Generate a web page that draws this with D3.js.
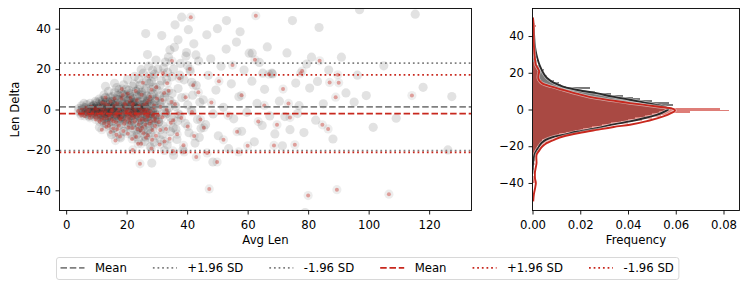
<!DOCTYPE html>
<html>
<head>
<meta charset="utf-8">
<script src="https://cdn.jsdelivr.net/npm/d3@7"></script>
<style>
  body { margin: 0; background: #fff; }
  svg { display: block; font-family: "DejaVu Sans", sans-serif; }
</style>
</head>
<body>
<svg id="chart" width="748" height="288"></svg>
<script>
// ---- data ----
// scatter: [avg len, len delta]
const grayPts = [
  [4.2,0.5],[4.8,-1.2],[5.1,1.8],[5.5,-0.3],[6.0,0.9],[6.3,-2.1],[6.8,2.4],[7.1,0.2],[7.4,-1.5],[7.9,3.1],
  [8.2,-0.8],[8.6,1.4],[9.0,-2.6],[9.3,0.6],[9.7,4.0],[9.9,-1.0],[5.9,3.0],[7.6,-3.4],[8.9,2.2],[6.6,-0.6],
  [10.2,1.5],[10.5,-3.2],[10.9,5.1],[11.3,-0.4],[11.6,2.8],[11.9,-5.5],[12.2,0.9],[12.5,7.2],[12.8,-2.0],[13.1,3.6],
  [13.4,-7.1],[13.7,1.2],[14.0,9.0],[14.3,-1.6],[14.6,4.3],[14.9,-4.0],[15.2,0.3],[15.5,6.5],[15.8,-9.2],[16.1,2.0],
  [16.4,-2.8],[16.7,10.8],[17.0,-0.9],[17.3,4.9],[17.6,-5.7],[17.9,1.7],[18.2,8.1],[18.5,-3.5],[18.8,3.0],[19.1,-11.0],
  [19.4,0.5],[19.7,6.2],[11.0,-8.8],[13.0,11.5],[15.0,-12.5],[16.0,13.0],[18.0,-14.0],[19.0,12.2],[12.0,4.5],[14.5,-0.2],
  [16.8,0.8],[18.6,-1.2],[17.2,7.0],[15.3,2.5],[13.6,-3.9],
  [20.1,2.1],[20.4,-4.4],[20.7,9.5],[21.0,0.0],[21.3,5.6],[21.6,-7.8],[21.9,3.3],[22.2,-1.7],[22.5,12.6],[22.8,1.0],
  [23.1,-10.5],[23.4,6.8],[23.7,-2.9],[24.0,15.2],[24.3,3.9],[24.6,-5.1],[24.9,8.6],[25.2,-0.6],[25.5,18.0],[25.8,2.7],
  [26.1,-13.4],[26.4,10.3],[26.7,-3.8],[27.0,5.0],[27.3,21.5],[27.6,-8.5],[27.9,1.6],[28.2,13.8],[28.5,-1.0],[28.8,7.7],
  [29.1,-16.2],[29.4,4.1],[29.7,24.5],[20.3,14.8],[21.8,-12.9],[22.7,16.4],[23.9,-15.0],[24.8,19.7],[25.6,-9.9],[26.9,27.2],
  [27.8,-18.5],[28.9,11.2],[20.9,6.9],[22.1,-4.8],[23.3,0.4],[24.5,-0.3],[25.9,4.6],[26.3,0.7],[27.4,-5.6],[28.4,2.9],
  [29.5,-2.3],[21.5,1.9],[23.8,9.8],[25.1,-7.0],[26.6,14.1],[28.0,-11.7],[29.2,17.5],[22.4,3.5],[24.2,7.4],[26.0,1.3],
  [26.3,37.6],[28.3,-26.5],
  [8.5,0.3],[9.1,1.9],[9.5,-0.5],[10.0,3.3],[10.4,-1.9],[10.8,0.6],[11.2,4.1],[11.5,-2.7],[11.8,1.0],[12.1,-0.8],
  [12.4,2.5],[12.7,-4.6],[13.0,5.8],[13.3,0.1],[13.6,-1.4],[13.9,3.7],[14.2,-3.3],[14.5,6.1],[14.8,1.5],[15.1,-5.9],
  [15.4,4.0],[15.7,-0.7],[16.0,8.4],[16.3,2.9],[16.6,-4.1],[16.9,5.3],[17.2,-1.8],[17.5,9.9],[17.8,0.9],[18.1,-7.3],
  [18.4,4.6],[18.7,-2.4],[19.0,7.4],[19.3,1.2],[19.6,-5.0],[19.9,10.1],[20.2,-0.9],[20.5,4.4],[20.8,-8.0],[21.1,7.8],
  [21.4,2.0],[21.7,-3.1],[22.0,11.4],[22.3,5.2],[22.6,-6.4],[22.9,0.7],[23.2,8.9],[23.5,-1.2],[23.8,3.0],[24.1,-9.0],
  [24.4,12.0],[24.7,2.2],[25.0,-3.5],[25.3,6.0],[25.6,0.2],[25.9,-6.0],[26.2,9.1],[26.5,-1.6],[26.8,4.0],[27.1,-10.2],
  [27.4,12.9],[27.7,2.6],[28.0,-4.4],[28.3,7.1],[28.6,-0.4],[28.9,16.0],[29.2,-7.5],[29.5,5.3],[29.8,-2.8],[30.1,9.7],
  [30.5,-4.8],[31.0,2.5],[31.5,14.2],[32.0,-8.1],[32.5,6.2],[33.0,-2.2],[33.5,18.4],[34.0,0.9],[34.5,-11.0],[35.0,7.9],
  [21.2,-1.0],[23.0,3.9],[24.9,1.0],[26.7,6.7],[19.5,2.8],[17.9,-2.7],[15.9,1.1],[14.1,-0.4],[22.5,-0.5],[27.9,-1.9],
  [30.3,20.0],[32.8,23.5],[35.5,20.0],[37.6,17.0],[40.1,21.7],[28.6,19.5],[31.2,-15.0],[36.3,-9.8],[26.0,-15.8],[23.5,-12.4],
  [30.2,0.8],[30.6,-6.2],[31.0,12.0],[31.4,3.2],[31.8,-12.3],[32.2,20.6],[32.6,-1.5],[33.0,8.3],[33.4,-17.5],[33.8,26.0],
  [34.2,4.4],[34.6,-4.0],[35.0,16.2],[35.4,-9.0],[35.8,30.8],[36.2,1.5],[36.6,-14.8],[37.0,10.4],[37.4,-2.6],[37.8,22.8],
  [38.2,5.9],[38.6,-20.0],[39.0,14.7],[39.4,-6.9],[39.8,28.2],[40.2,2.2],[40.6,-11.5],[41.0,18.9],[41.4,-0.4],[41.8,7.1],
  [42.2,32.5],[42.6,-16.6],[43.0,11.9],[43.4,-4.9],[43.8,24.0],[44.2,3.6],[44.6,-9.3],[31.6,36.6],[34.3,29.5],[36.0,41.9],
  [38.2,45.7],[40.4,39.5],[37.0,34.5],[39.6,26.4],[32.5,-20.3],[35.5,-22.6],[30.9,6.8],[33.2,15.1],[36.8,-5.7],[41.5,13.5],
  [44.0,-13.8],[42.9,27.0],
  [45.3,4.8],[46.1,-7.5],[47.0,16.9],[47.8,25.1],[48.6,-2.2],[49.5,9.6],[50.3,-13.0],[51.2,21.4],[52.0,1.1],[52.9,29.9],
  [53.7,-19.4],[54.6,12.7],[55.4,-4.6],[56.3,33.4],[57.1,6.3],[58.0,-10.8],[58.8,19.5],[59.7,-1.4],[60.5,27.9],[61.4,14.0],
  [62.2,-16.0],[63.1,3.0],[63.9,23.3],[64.8,-7.9],[65.6,10.0],[66.5,31.0],[67.3,-3.2],[68.2,17.6],[69.0,-12.1],[46.5,37.0],
  [50.0,40.0],[53.0,44.0],[57.5,38.5],[61.5,27.9],[68.0,18.0],[65.0,18.0],[48.5,-26.0],
  [70.5,4.1],[72.3,-3.5],[74.8,44.0],[74.0,-10.0],[75.9,13.1],[77.0,1.9],[78.6,-11.4],[79.5,22.5],[80.5,10.6],[81.1,25.9],
  [82.5,-5.3],[83.1,13.9],[83.6,40.6],[85.0,2.8],[86.8,19.5],[88.2,-14.6],[91.0,25.9],[92.5,8.2],[95.2,3.7],[96.3,17.0],
  [97.0,49.4],[99.2,6.9],[101.5,-8.8],[105.0,21.6],[109.1,-4.3],[115.4,47.2],[118.0,11.0],[127.5,6.4],[126.2,-20.0],[71.5,-18.0],
  [76.5,-2.0],[73.0,28.0],[79.0,-51.0]
];
const redPts = [
  [4.0,-0.8],[4.6,-2.0],[5.2,0.4],[5.7,-1.5],[6.1,-3.2],[6.5,0.9],[7.0,-2.4],[7.5,-0.2],[7.8,-4.1],[8.3,1.3],
  [8.7,-1.8],[9.2,-3.6],[9.6,0.7],[5.0,-3.0],[6.9,-1.0],[8.0,-2.9],[9.8,-5.0],
  [10.1,-2.6],[10.6,0.8],[11.0,-6.0],[11.5,-1.3],[11.9,3.4],[12.4,-4.5],[12.9,-0.5],[13.3,-8.6],[13.8,2.1],[14.2,-3.0],
  [14.7,-11.2],[15.1,0.2],[15.6,-5.8],[16.0,5.5],[16.5,-1.9],[16.9,-9.8],[17.4,1.0],[17.8,-13.4],[18.3,-3.9],[18.7,7.2],
  [19.2,-7.1],[19.6,-0.8],[12.2,-1.5],[14.0,-6.5],[15.9,-2.3],[17.7,-4.4],[19.3,3.0],[13.0,6.0],[11.8,-10.0],[16.3,-15.4],
  [18.4,10.2],[14.9,-0.9],
  [8.8,-1.2],[9.4,0.2],[9.9,-2.2],[10.3,-0.6],[10.7,-3.9],[11.1,1.4],[11.4,-2.1],[11.7,-5.1],[12.0,0.4],[12.3,-3.0],
  [12.6,-6.8],[12.9,2.8],[13.2,-1.9],[13.5,-4.2],[13.8,0.9],[14.1,-8.0],[14.4,-2.6],[14.7,3.9],[15.0,-4.9],[15.3,-0.4],
  [15.6,-9.4],[15.9,1.7],[16.2,-3.4],[16.5,-6.3],[16.8,3.0],[17.1,-1.1],[17.4,-7.9],[17.7,0.3],[18.0,-4.8],[18.3,5.4],
  [18.6,-2.0],[18.9,-10.7],[19.2,0.9],[19.5,-5.4],[19.8,2.3],[20.1,-3.7],[20.4,-12.0],[20.7,0.0],[21.0,-6.6],[21.3,5.9],
  [21.6,-1.4],[21.9,-9.2],[22.2,2.9],[22.5,-4.2],[22.8,-0.8],[23.1,-13.5],[23.4,4.7],[23.7,-3.2],[24.0,-7.4],[24.3,0.5],
  [24.6,-2.1],[24.9,7.3],[25.2,-9.0],[25.5,-1.9],[25.8,2.4],[26.1,-5.2],[26.4,-14.0],[26.7,0.1],[27.0,-3.3],[27.3,4.6],
  [27.6,-7.0],[27.9,-0.9],[28.2,9.8],[28.5,-10.1],[28.8,-2.6],[29.1,2.0],[29.4,-4.5],[29.7,-13.0],[30.0,5.4],[30.6,-6.2],
  [31.2,1.3],[31.8,-3.8],[32.4,8.2],[33.0,-9.7],[33.6,-1.9],[34.2,-14.5],[34.8,3.7],[35.4,-5.3],[22.0,-2.8],[19.9,-1.5],
  [17.0,-3.0],[25.0,-0.5],[26.2,-2.5],[23.8,1.2],[21.1,-2.2],[28.0,-5.8],[16.6,-12.5],[30.9,-17.3],[33.4,13.0],[24.8,-17.0],
  [20.2,-1.1],[20.6,-8.9],[21.0,4.0],[21.4,-3.4],[21.8,-14.6],[22.2,0.6],[22.6,-6.1],[23.0,9.1],[23.4,-2.4],[23.8,-17.0],
  [24.2,1.8],[24.6,-10.4],[25.0,-4.7],[25.4,13.2],[25.8,-0.3],[26.2,-7.6],[26.6,3.2],[27.0,-12.8],[27.4,-1.7],[27.8,6.3],
  [28.2,-19.3],[28.6,-3.1],[29.0,0.9],[29.4,-8.2],[29.8,11.0],[20.8,-5.0],[22.9,-2.0],[24.4,-5.5],[25.6,-11.8],[26.9,-3.6],
  [28.4,-15.0],[21.9,2.4],[23.6,-9.7],[27.2,16.5],[24.4,-26.9],[29.3,-5.6],[20.4,7.8],[26.4,-1.0],[22.0,-20.0],
  [30.4,-2.8],[31.1,-10.1],[31.8,4.7],[32.5,-15.9],[33.2,-0.1],[33.9,9.3],[34.6,-6.6],[35.3,-20.5],[36.0,2.6],[36.7,-12.2],
  [37.4,15.4],[38.1,-4.2],[38.8,-17.7],[39.5,6.1],[40.2,-8.4],[40.9,20.0],[41.6,-1.2],[42.3,-13.1],[43.0,-23.5],[43.7,8.5],
  [44.4,-5.0],[41.2,45.7],[32.0,18.0],[35.0,24.0],[39.0,-21.0],[37.0,-2.0],[42.0,12.0],
  [45.5,-9.0],[46.6,-21.5],[47.3,-39.3],[48.0,3.5],[49.9,-26.0],[50.5,14.0],[52.0,-15.0],[53.5,-3.0],[55.0,22.0],[56.5,-11.0],
  [58.0,7.0],[60.0,-18.0],[62.4,24.6],[62.7,46.4],[63.5,-6.0],[65.5,2.0],[67.0,17.5],[68.7,-17.8],[69.7,-7.6],[57.0,-21.0],
  [71.7,10.1],[73.5,3.0],[75.6,-17.5],[77.5,18.0],[80.0,-42.6],[83.8,24.1],[84.7,-7.6],[86.6,-9.6],[87.1,13.4],[89.1,6.1],
  [89.5,-39.7],[89.8,17.2],[90.1,13.2],[78.0,19.0],[106.7,-41.9],[114.3,6.9],[74.0,-4.0]
];

// reference lines: [gray, red]
const meanLines  = [1.3, -2.0];
const upperLines = [23.0, 17.2];
const lowerLines = [-20.4, -21.2];

// histogram (density), bins of width 1 starting at -50
const binStart = -50;
const grayHist = [
  0,0,0,0,0,0,0,0,0,0, 0,0,0,0,0,0,0,0.0005,0,0,
  0,0,0.001,0,0.001,0.001,0.002,0.001,0.003,0.002,
  0.003,0.004,0.005,0.004,0.007,0.009,0.011,0.014,0.018,0.021,
  0.025,0.029,0.033,0.037,0.040,0.043,0.047,0.050,0.053,0.055,
  0.058,0.056,0.059,0.057,0.050,0.045,0.042,0.038,0.033,0.026,
  0.019,0.024,0.014,0.012,0.011,0.009,0.007,0.006,0.006,0.005,
  0.004,0.005,0.003,0.003,0.002,0.002,0.002,0.001,0.002,0.001,
  0.001,0.001,0.001,0.0005,0.001,0.0005,0,0.0005,0.0005,0,
  0.0005,0,0.0005,0,0.0005,0.0005,0,0.0005,0,0
];
const redHist = [
  0,0.0005,0,0,0,0,0,0,0,0,
  0.0015,0.001,0.0015,0.0005,0,0,0,0.0005,0,0,
  0.001,0,0.001,0.001,0.002,0.002,0.002,0.003,0.003,0.004,
  0.005,0.005,0.007,0.008,0.011,0.012,0.015,0.018,0.022,0.025,
  0.029,0.034,0.040,0.042,0.046,0.050,0.054,0.057,0.066,0.0825,
  0.0785,0.055,0.046,0.041,0.035,0.030,0.027,0.022,0.019,0.016,
  0.013,0.010,0.008,0.006,0.005,0.004,0.003,0.002,0.002,0.003,
  0.003,0.002,0.002,0.001,0.001,0.001,0,0.001,0,0,
  0.001,0,0,0,0,0,0,0,0,0,
  0,0,0,0,0,0.0015,0.001,0.0005,0,0
];

// density curves: [len delta, density]
const grayKde = [
  [-35,0.0000],[-30,0.0002],[-26,0.0006],[-24,0.0010],[-22,0.0018],[-20,0.0028],[-18,0.0040],[-16.5,0.0055],
  [-15,0.0085],[-13.8,0.0128],[-12,0.0190],[-10.2,0.0268],[-8,0.0345],[-6.5,0.0408],[-4.5,0.0475],[-2.9,0.0520],
  [-1,0.0555],[0.2,0.0569],[1.2,0.0560],[2.5,0.0520],[4,0.0460],[5.3,0.0408],[7,0.0335],[8.9,0.0268],
  [10.5,0.0195],[12.5,0.0128],[14.5,0.0090],[17,0.0062],[20,0.0045],[24,0.0030],[28,0.0020],[32,0.0013],
  [36,0.0009],[40,0.0007],[45,0.0004],[50,0.0002]
];
const redKde = [
  [-50,0.0003],[-46,0.0006],[-42,0.0012],[-40,0.0014],[-37,0.0010],[-34.7,0.0010],[-32,0.0013],[-29,0.0017],
  [-26,0.0016],[-24.7,0.0017],[-22,0.0030],[-20,0.0042],[-18.3,0.0059],[-16.5,0.0090],[-14.7,0.0128],[-12.8,0.0195],
  [-11.1,0.0268],[-9.5,0.0340],[-8.3,0.0408],[-6,0.0490],[-3.8,0.0548],[-2,0.0580],[-0.5,0.0597],[0.5,0.0585],
  [1.5,0.0530],[2.5,0.0470],[3.5,0.0408],[5,0.0330],[6.2,0.0268],[8.5,0.0190],[10.7,0.0128],[12.5,0.0080],
  [14,0.0044],[15.5,0.0030],[17.1,0.0024],[19,0.0025],[20.7,0.0028],[22.5,0.0022],[24.4,0.0014],[28,0.0010],
  [32.5,0.0007],[38,0.0005],[44,0.0005],[47,0.0004],[50,0.0002]
];

const xTicks = [0, 20, 40, 60, 80, 100, 120];
const yTicks = [-40, -20, 0, 20, 40];
const freqTicks = [0, 0.02, 0.04, 0.06, 0.08];
const legendLabels = ["Mean", "+1.96 SD", "-1.96 SD", "Mean", "+1.96 SD", "-1.96 SD"];

// ---- drawing ----
const GRAY = "#808080", RED = "#c8281e", FS = 11.7;
const svg = d3.select("#chart");

const L = { x0: 59.5, x1: 471.5, y0: 8.5, y1: 210.5 };
const R = { x0: 532.5, x1: 739.5, y0: 8.5, y1: 210.5 };

const x = d3.scaleLinear().domain([-2.2, 134]).range([L.x0, L.x1]);
const y = d3.scaleLinear().domain([-50, 50]).range([L.y1, L.y0]);
const hx = d3.scaleLinear().domain([0, 0.0867]).range([R.x0, R.x1]);
const hy = d3.scaleLinear().domain([-55, 55]).range([R.y1, R.y0]);

const defs = svg.append("defs");
defs.append("clipPath").attr("id", "clipL").append("rect")
  .attr("x", L.x0).attr("y", L.y0).attr("width", L.x1 - L.x0).attr("height", L.y1 - L.y0);
defs.append("clipPath").attr("id", "clipR").append("rect")
  .attr("x", R.x0).attr("y", R.y0).attr("width", R.x1 - R.x0).attr("height", R.y1 - R.y0);

// scatter
const sc = svg.append("g").attr("clip-path", "url(#clipL)");
sc.append("g").selectAll("circle").data(grayPts).join("circle")
  .attr("cx", d => x(d[0])).attr("cy", d => y(d[1])).attr("r", 4.6)
  .attr("fill", "#000").attr("fill-opacity", 0.115);
const rg = sc.append("g");
rg.selectAll("circle.ring").data(redPts).join("circle").attr("class", "ring")
  .attr("cx", d => x(d[0])).attr("cy", d => y(d[1])).attr("r", 4.6)
  .attr("fill", "#000").attr("fill-opacity", 0.07);
rg.selectAll("circle.dot").data(redPts).join("circle").attr("class", "dot")
  .attr("cx", d => x(d[0])).attr("cy", d => y(d[1])).attr("r", 2.0)
  .attr("fill", RED).attr("fill-opacity", 0.4);

// reference lines
const lineStyles = [
  { vals: meanLines, dash: "6.5,2.8" },
  { vals: upperLines, dash: "1.75,2.9" },
  { vals: lowerLines, dash: "1.75,2.9" }
];
[GRAY, RED].forEach((col, i) => {
  lineStyles.forEach(s => {
    sc.append("line")
      .attr("x1", L.x0).attr("x2", L.x1)
      .attr("y1", y(s.vals[i])).attr("y2", y(s.vals[i]))
      .attr("stroke", col).attr("stroke-width", 1.75)
      .attr("stroke-dasharray", s.dash);
  });
});

// histogram
const hg = svg.append("g").attr("clip-path", "url(#clipR)");
function drawHist(vals, fill, op) {
  hg.append("g").attr("shape-rendering", "crispEdges")
    .selectAll("rect").data(vals).join("rect")
    .attr("x", hx(0))
    .attr("y", (d, i) => hy(binStart + i + 1))
    .attr("height", (d, i) => hy(binStart + i) - hy(binStart + i + 1))
    .attr("width", d => hx(d) - hx(0))
    .attr("fill", fill).attr("fill-opacity", op);
}
drawHist(grayHist, "#7a7a7a", 1);
drawHist(redHist, RED, 0.6);

const kdeLine = d3.line().x(d => hx(d[1])).y(d => hy(d[0])).curve(d3.curveMonotoneY);
[[grayKde, "#2a2a2a"], [redKde, RED]].forEach(([pts, col]) => {
  hg.append("path").attr("d", kdeLine(pts)).attr("fill", "none")
    .attr("stroke", "#fff").attr("stroke-opacity", 0.5).attr("stroke-width", 3.3);
  hg.append("path").attr("d", kdeLine(pts)).attr("fill", "none")
    .attr("stroke", col).attr("stroke-width", 1.9);
});

// axes
function styleAxis(g) {
  g.select(".domain").remove();
  g.selectAll("line").attr("stroke", "#000").attr("stroke-width", 0.9);
  g.selectAll("text").attr("font-size", FS).attr("font-family", "DejaVu Sans").attr("fill", "#000");
}
svg.append("g").attr("transform", `translate(0,${L.y1})`)
  .call(d3.axisBottom(x).tickValues(xTicks).tickSize(4).tickPadding(6.2)).call(styleAxis);
svg.append("g").attr("transform", `translate(${L.x0},0)`)
  .call(d3.axisLeft(y).tickValues(yTicks).tickSize(4).tickPadding(4.5)).call(styleAxis);
svg.append("g").attr("transform", `translate(0,${R.y1})`)
  .call(d3.axisBottom(hx).tickValues(freqTicks).tickFormat(d3.format(".2f")).tickSize(4).tickPadding(6.2)).call(styleAxis);
svg.append("g").attr("transform", `translate(${R.x0},0)`)
  .call(d3.axisLeft(hy).tickValues(yTicks).tickSize(4).tickPadding(4.5)).call(styleAxis);

[L, R].forEach(a => {
  svg.append("rect").attr("x", a.x0).attr("y", a.y0)
    .attr("width", a.x1 - a.x0).attr("height", a.y1 - a.y0)
    .attr("fill", "none").attr("stroke", "#000").attr("stroke-width", 0.9);
});

// axis titles
svg.append("text").attr("x", (L.x0 + L.x1) / 2).attr("y", 244)
  .attr("text-anchor", "middle").attr("font-size", FS).text("Avg Len");
svg.append("text").attr("x", (R.x0 + R.x1) / 2).attr("y", 244)
  .attr("text-anchor", "middle").attr("font-size", FS).text("Frequency");
svg.append("text").attr("transform", `translate(19,${(L.y0 + L.y1) / 2}) rotate(-90)`)
  .attr("text-anchor", "middle").attr("font-size", FS).text("Len Delta");

// legend
const leg = svg.append("g");
const box = leg.append("rect").attr("x", 56.5).attr("y", 257.5).attr("height", 22)
  .attr("rx", 2.5).attr("fill", "#fff").attr("stroke", "#d4d4d4").attr("stroke-width", 0.9);
const legStyles = ["6.5,2.8", "1.75,2.9", "1.75,2.9"];
let lx = 60.5;
const ly = 267.8;
legendLabels.forEach((lab, i) => {
  const col = i < 3 ? GRAY : RED;
  leg.append("line").attr("x1", lx).attr("x2", lx + 24).attr("y1", ly).attr("y2", ly)
    .attr("stroke", col).attr("stroke-width", 1.75).attr("stroke-dasharray", legStyles[i % 3]);
  const t = leg.append("text").attr("x", lx + 34.5).attr("y", ly + 4.2)
    .attr("font-size", FS).text(lab);
  lx = lx + 34.5 + t.node().getComputedTextLength() + 26;
});
box.attr("width", lx - 26 + 5 - 56.5);
</script>
</body>
</html>
